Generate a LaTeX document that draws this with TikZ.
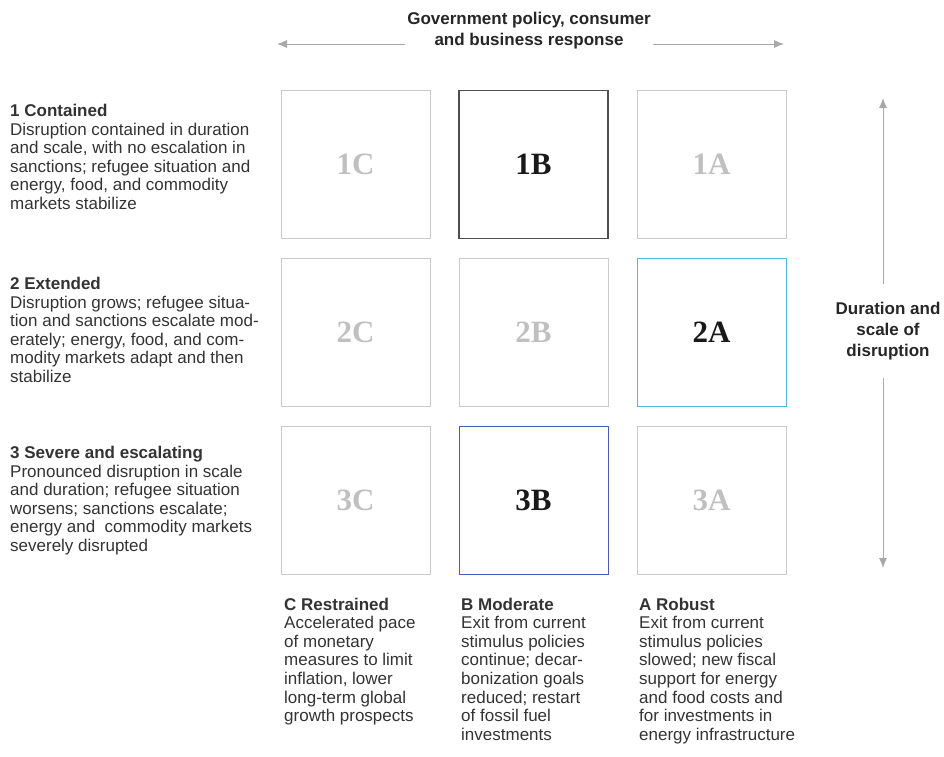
\documentclass[tikz,border=0pt]{standalone}
\usepackage{fontspec}
\setmainfont{Liberation Sans}
\newfontfamily\cellfont{Liberation Serif}
\usepackage{tikz}
\usetikzlibrary{positioning,arrows.meta}
\definecolor{ink}{RGB}{51,51,51}
\definecolor{faint}{RGB}{202,202,202}
\definecolor{faintnum}{RGB}{192,192,192}
\definecolor{axisgray}{RGB}{168,168,168}
\definecolor{celldark}{RGB}{78,78,78}
\definecolor{cellblue}{RGB}{84,180,224}
\definecolor{cellnavy}{RGB}{72,92,178}

\begin{document}
\begin{tikzpicture}[x=1pt, y=-1pt,
		node distance=20pt and 29pt,
		cell/.style={draw=faint, line width=0.9pt, minimum width=149pt, minimum height=148pt, inner sep=0pt, outer sep=0pt, text=faintnum, font=\cellfont\bfseries\fontsize{31}{31}\selectfont},
		hot/.style={text=black!90},
		desc/.style={align=left, inner sep=0pt, text=ink, font=\fontsize{17}{18.6}\selectfont},
		head/.style={align=center, inner sep=2pt, text=black!85, font=\bfseries\fontsize{17}{21}\selectfont},
		axis/.style={-{Latex[length=10pt,width=8pt]}, draw=axisgray, line width=0.9pt}
	]
	\useasboundingbox (0,0) rectangle (944,756);

	% scenario grid
	\node[cell] (c1C) at (355.5,164.5) {1C};
	\node[cell, hot, draw=celldark, line width=1.2pt, right=of c1C] (c1B) {1B};
	\node[cell, right=of c1B] (c1A) {1A};
	\node[cell, below=of c1C] (c2C) {2C};
	\node[cell, below=of c1B] (c2B) {2B};
	\node[cell, hot, draw=cellblue, below=of c1A] (c2A) {2A};
	\node[cell, below=of c2C] (c3C) {3C};
	\node[cell, hot, draw=cellnavy, below=of c2B] (c3B) {3B};
	\node[cell, below=of c2A] (c3A) {3A};

	% horizontal axis
	\node[head] (title) at (529,31) {Government policy, consumer\\and business response};
	\coordinate (hL) at (277,44);
	\coordinate (hR) at (784,44);
	\draw[axis] (title.west |- hL) -- (hL);
	\draw[axis] (title.east |- hR) -- (hR);

	% vertical axis
	\node[head, inner ysep=18pt] (dur) at (888,331) {Duration and\\scale of\\disruption};
	\coordinate (vT) at (883,98);
	\coordinate (vB) at (883,568);
	\draw[axis] (dur.north -| vT) -- (vT);
	\draw[axis] (dur.south -| vB) -- (vB);

	% rows
	\node[desc, anchor=north west] (r1) at (10,104) {\textbf{1 Contained}\\Disruption contained in duration\\and scale, with no escalation in\\sanctions; refugee situation and\\energy, food, and commodity\\markets stabilize};
	\node[desc, anchor=north west] (r2) at (10,277) {\textbf{2 Extended}\\Disruption grows; refugee situa-\\tion and sanctions escalate mod-\\erately; energy, food, and com-\\modity markets adapt and then\\stabilize};
	\node[desc, anchor=north west] (r3) at (10,446) {\textbf{3 Severe and escalating}\\Pronounced disruption in scale\\and duration; refugee situation\\worsens; sanctions escalate;\\energy and\ \ commodity markets\\severely disrupted};

	% columns
	\node[desc, below right=23pt and 3pt of c3C.south west] (kC) {\textbf{C Restrained}\\Accelerated pace\\of monetary\\measures to limit\\inflation, lower\\long-term global\\growth prospects};
	\node[desc, below right=23pt and 2pt of c3B.south west] (kB) {\textbf{B Moderate}\\Exit from current\\stimulus policies\\continue; decar-\\bonization goals\\reduced; restart\\of fossil fuel\\investments};
	\node[desc, below right=23pt and 2pt of c3A.south west] (kA) {\textbf{A Robust}\\Exit from current\\stimulus policies\\slowed; new fiscal\\support for energy\\and food costs and\\for investments in\\energy infrastructure};

\end{tikzpicture}
\end{document}
